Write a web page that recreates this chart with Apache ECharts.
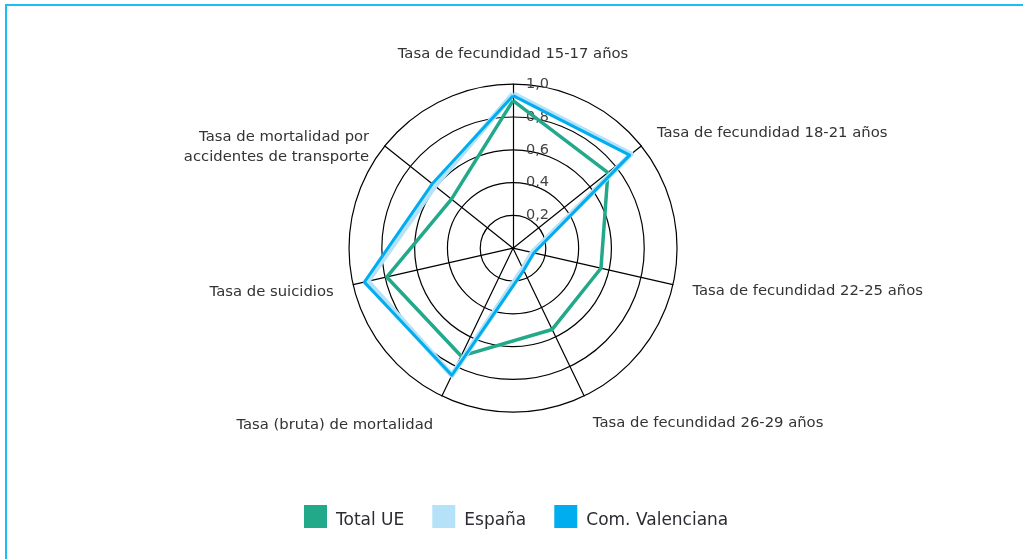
<!DOCTYPE html>
<html>
<head>
<meta charset="utf-8">
<script src="https://cdn.jsdelivr.net/npm/echarts@6/dist/echarts.min.js"></script>
<style>
  html, body { margin: 0; padding: 0; background: #fff; }
  #frame { position: absolute; left: 5px; top: 4px; width: 1018px; height: 555px;
           border-top: 2.5px solid #1bbff0; border-left: 2.5px solid #1bbff0; }
  #chart { position: absolute; left: 0; top: 0; width: 1023px; height: 559px; }
</style>
</head>
<body>
<div id="frame"></div>
<div id="chart"></div>
<script>
// Categories in clockwise order starting from the top
const categories = [
  'Tasa de fecundidad 15-17 años',
  'Tasa de fecundidad 18-21 años',
  'Tasa de fecundidad 22-25 años',
  'Tasa de fecundidad 26-29 años',
  'Tasa (bruta) de mortalidad',
  'Tasa de suicidios',
  'Tasa de mortalidad por\naccidentes de transporte'
];
const seriesNames = ['Total UE', 'España', 'Com. Valenciana'];
const totalUE        = [0.90, 0.74, 0.55, 0.55, 0.73, 0.79, 0.48];
const espana         = [0.94, 0.92, 0.12, 0.14, 0.86, 0.91, 0.61];
const comValenciana  = [0.93, 0.91, 0.13, 0.15, 0.86, 0.93, 0.63];

// ECharts draws radar indicators counter-clockwise; reorder keeping the first one on top
function ccw(arr) { return [arr[0]].concat(arr.slice(1).reverse()); }

const colors = ['#21a98a', '#b5e2f8', '#00aeef'];
const widths = [3.5, 5.5, 3];
const allData = [totalUE, espana, comValenciana];

// vertical nudges (spacer line heights) for some axis names
const nameSpacer = {};
nameSpacer[categories[2]] = 4;
nameSpacer[categories[3]] = 18;
nameSpacer[categories[4]] = 22;
nameSpacer[categories[5]] = 6;
nameSpacer[categories[6]] = 28;

const FONT = 'DejaVu Sans';
const NAME_SIZE = 14.8;

const chart = echarts.init(document.getElementById('chart'));
chart.setOption({
  animation: false,
  textStyle: { fontFamily: FONT },
  legend: {
    top: 500,
    left: 299,
    icon: 'rect',
    itemWidth: 23,
    itemHeight: 23,
    itemGap: 28,
    data: seriesNames,
    textStyle: {
      color: '#2b2b33',
      rich: { a: { fontSize: 17, fontFamily: FONT, color: '#2b2b33', padding: [9, 0, 0, 4] } }
    },
    formatter: name => '{a|' + name + '}'
  },
  radar: {
    center: ['50.15%', '44.4%'],
    radius: 164,
    shape: 'circle',
    splitNumber: 5,
    nameGap: 20,
    indicator: ccw(categories).map(n => ({ name: n, max: 1, min: 0 })),
    axisName: {
      color: '#333', fontSize: NAME_SIZE, fontFamily: FONT, lineHeight: 20,
      formatter: function (name) {
        const lines = name.split('\n').map(l => '{n|' + l + '}');
        const sp = nameSpacer[name];
        return (sp ? '{s' + sp + '| }\n' : '') + lines.join('\n');
      },
      rich: {
        n: { color: '#333', fontSize: NAME_SIZE, fontFamily: FONT, lineHeight: 20 },
        s4: { height: 4, lineHeight: 4, fontSize: 3 },
        s6: { height: 6, lineHeight: 6, fontSize: 4 },
        s18: { height: 18, lineHeight: 18, fontSize: 4 },
        s22: { height: 22, lineHeight: 22, fontSize: 4 },
        s28: { height: 28, lineHeight: 28, fontSize: 4 }
      }
    },
    axisLine: { lineStyle: { color: '#000', width: 1.2 } },
    splitLine: { lineStyle: { color: '#000', width: 1.2 } },
    splitArea: { show: false }
  },
  polar: { center: ['50.15%', '44.4%'], radius: 164 },
  angleAxis: { show: false, startAngle: 90, min: 0, max: 360 },
  radiusAxis: {
    min: 0, max: 1, interval: 0.2,
    axisLine: { show: false }, axisTick: { show: false }, splitLine: { show: false },
    axisLabel: {
      showMinLabel: false, color: '#444', fontSize: 14.5, margin: -13, align: 'left',
      fontFamily: FONT,
      formatter: v => v.toFixed(1).replace('.', ',')
    }
  },
  series: seriesNames.map((name, i) => ({
    type: 'radar',
    name: name,
    symbol: 'none',
    lineStyle: { color: colors[i], width: widths[i] },
    itemStyle: { color: colors[i] },
    data: [{ name: name, value: ccw(allData[i]) }]
  }))
});
</script>
</body>
</html>
